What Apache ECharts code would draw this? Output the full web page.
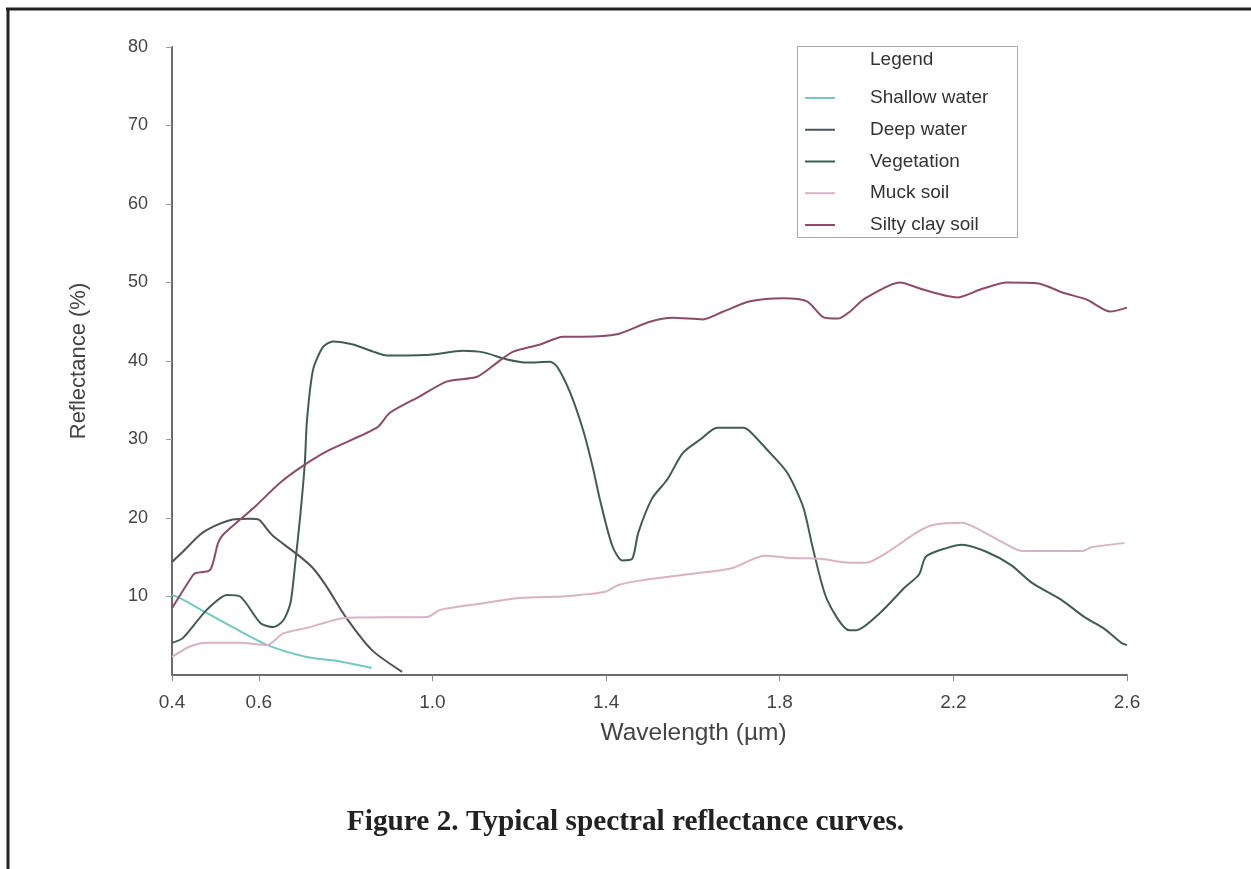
<!DOCTYPE html>
<html>
<head>
<meta charset="utf-8">
<script src="https://cdn.jsdelivr.net/npm/echarts@6/dist/echarts.min.js"></script>
<style>
html,body{margin:0;padding:0;background:#fff;}
#chart{width:1251px;height:869px;}
</style>
</head>
<body>
<div id="chart"></div>
<script>
// ---- data (wavelength µm, reflectance %) ----
const seriesNames = ['Shallow water', 'Deep water', 'Vegetation', 'Muck soil', 'Silty clay soil'];
const xTickValues = [0.4, 0.6, 1.0, 1.4, 1.8, 2.2, 2.6];
const yTickValues = [10, 20, 30, 40, 50, 60, 70, 80];

const shallowWater = [[0.40,10.2],[0.425,9.6],[0.48,7.9],[0.54,6.1],[0.62,3.8],[0.71,2.3],[0.79,1.7],[0.86,0.9]];

const deepWater = [[0.40,14.4],[0.425,15.7],[0.465,17.9],[0.495,18.9],[0.54,19.8],[0.58,19.9],[0.60,19.8],[0.62,18.5],
  [0.635,17.6],[0.69,15.3],[0.725,13.6],[0.757,11.2],[0.80,7.4],[0.86,3.2],[0.93,0.4]];

const vegetation = [[0.40,4.1],[0.425,4.7],[0.48,8.3],[0.527,10.2],[0.557,10.0],[0.604,6.6],[0.634,6.1],[0.657,7.0],
  [0.673,9.2],[0.684,14.3],[0.696,20.6],[0.706,27.0],[0.711,32.5],[0.725,38.9],[0.748,41.8],[0.771,42.5],[0.817,42.1],
  [0.863,41.2],[0.895,40.7],[0.994,40.8],[1.07,41.3],[1.117,41.1],[1.172,40.2],[1.218,39.8],[1.271,39.9],[1.287,39.3],
  [1.317,36.0],[1.347,31.2],[1.37,26.3],[1.386,22.3],[1.414,16.5],[1.437,14.6],[1.46,14.8],[1.474,18.1],[1.506,22.5],
  [1.541,24.9],[1.577,28.3],[1.617,30.0],[1.656,31.5],[1.716,31.5],[1.732,31.0],[1.771,28.7],[1.817,25.8],[1.854,21.4],
  [1.877,16.0],[1.909,9.6],[1.96,5.7],[1.976,5.7],[2.031,7.9],[2.089,11.2],[2.121,12.8],[2.137,15.1],[2.186,16.2],
  [2.22,16.6],[2.276,15.7],[2.333,14.0],[2.382,11.7],[2.448,9.6],[2.504,7.3],[2.545,6.0],[2.587,4.1],[2.6,3.8]];

const muckSoil = [[0.40,2.3],[0.44,3.6],[0.48,4.1],[0.557,4.1],[0.619,3.8],[0.656,5.3],[0.711,6.0],[0.803,7.3],
  [0.988,7.4],[1.018,8.3],[1.10,9.0],[1.20,9.8],[1.30,10.0],[1.34,10.2],[1.398,10.6],[1.43,11.5],[1.488,12.1],
  [1.584,12.8],[1.69,13.6],[1.764,15.2],[1.829,14.9],[1.893,14.8],[1.96,14.3],[1.999,14.3],[2.047,15.6],[2.114,18.1],
  [2.153,19.1],[2.22,19.4],[2.253,18.7],[2.317,16.8],[2.358,15.8],[2.497,15.8],[2.52,16.3],[2.594,16.8]];

const siltyClaySoil = [[0.40,8.5],[0.448,12.7],[0.455,13.0],[0.488,13.4],[0.506,16.8],[0.518,17.9],[0.557,19.8],
  [0.596,21.7],[0.649,24.5],[0.706,26.8],[0.764,28.7],[0.872,31.5],[0.902,33.4],[0.971,35.5],[1.034,37.4],[1.103,38.0],
  [1.149,39.8],[1.186,41.2],[1.248,42.1],[1.301,43.1],[1.347,43.1],[1.425,43.4],[1.501,45.0],[1.554,45.5],[1.623,45.3],
  [1.67,46.3],[1.732,47.6],[1.808,48.0],[1.863,47.6],[1.90,45.6],[1.935,45.4],[1.962,46.3],[1.992,47.8],[2.077,50.0],
  [2.13,49.1],[2.209,48.1],[2.262,49.1],[2.324,50.0],[2.393,49.9],[2.453,48.7],[2.508,47.8],[2.561,46.3],[2.6,46.8]];

const seriesData = [shallowWater, deepWater, vegetation, muckSoil, siltyClaySoil];
const seriesColors = ['#74c7c3', '#4e5356', '#3f5d51', '#d9b2c4', '#8e4a69'];

const chart = echarts.init(document.getElementById('chart'), null, {renderer: 'canvas'});
const axisFont = 'Liberation Sans, Arial, sans-serif';

const option = {
  backgroundColor: '#ffffff',
  animation: false,
  grid: {left: 172, right: 124, top: 47, bottom: 194, containLabel: false},
  xAxis: {
    type: 'value', min: 0.4, max: 2.6,
    name: 'Wavelength (µm)', nameLocation: 'middle', nameGap: 46,
    nameTextStyle: {fontFamily: axisFont, fontSize: 24.5, color: '#444', padding: [0, 0, 0, 88]},
    axisLine: {show: true, lineStyle: {color: '#6a6a6a', width: 2}},
    axisTick: {show: true, customValues: xTickValues, length: 6, lineStyle: {color: '#888', width: 1}},
    axisLabel: {customValues: xTickValues, margin: 18, fontFamily: axisFont, fontSize: 19, color: '#444',
      formatter: v => v.toFixed(1)},
    splitLine: {show: false}
  },
  yAxis: {
    type: 'value', min: 0, max: 80, interval: 10,
    name: 'Reflectance (%)', nameLocation: 'middle', nameGap: 82, nameRotate: 90,
    nameTextStyle: {fontFamily: axisFont, fontSize: 22, color: '#444'},
    axisLine: {show: true, lineStyle: {color: '#6a6a6a', width: 2}},
    axisTick: {show: true, customValues: yTickValues, length: 6, lineStyle: {color: '#999', width: 1}},
    axisLabel: {customValues: yTickValues, margin: 24, fontFamily: axisFont, fontSize: 18, color: '#444'},
    splitLine: {show: false}
  },
  legend: {
    data: seriesNames,
    orient: 'vertical', left: 800, top: 82,
    icon: 'rect', itemWidth: 30, itemHeight: 2, itemGap: 9.75,
    textStyle: {fontFamily: axisFont, fontSize: 19, lineHeight: 22, color: '#333', padding: [0, 0, 0, 30]},
    selectedMode: false
  },
  graphic: [
    {type: 'line', shape: {x1: 6, y1: 9, x2: 1251, y2: 9}, style: {stroke: '#222', lineWidth: 3}},
    {type: 'line', shape: {x1: 8, y1: 8, x2: 8, y2: 869}, style: {stroke: '#222', lineWidth: 3}},
    {type: 'rect', shape: {x: 797.5, y: 46.5, width: 220, height: 191}, style: {fill: 'none', stroke: '#a8a8a8', lineWidth: 1}},
    {type: 'text', left: 870, top: 50, style: {text: 'Legend', fontFamily: axisFont, fontSize: 19, fill: '#333'}},
    {type: 'text', left: 'center', top: 808, style: {text: 'Figure 2. Typical spectral reflectance curves.',
      fontFamily: 'Liberation Serif, Times New Roman, serif', fontWeight: 'bold', fontSize: 29.3, fill: '#222'}}
  ],
  series: seriesNames.map((name, i) => ({
    name: name, type: 'line', data: seriesData[i], symbol: 'none', smooth: 0.25,
    lineStyle: {color: seriesColors[i], width: 2}, itemStyle: {color: seriesColors[i]}
  }))
};
chart.setOption(option);
</script>
</body>
</html>
